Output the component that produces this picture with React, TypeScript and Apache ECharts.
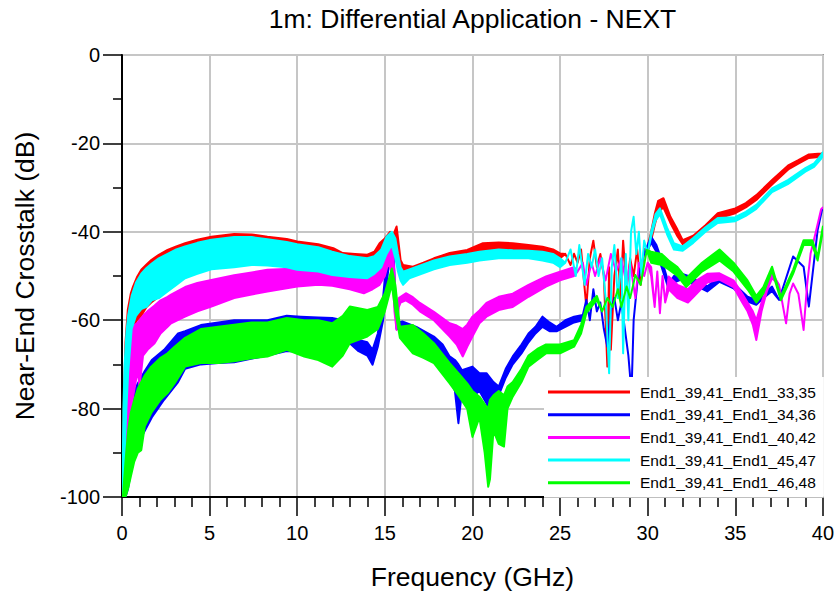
import React, { useEffect, useRef } from 'react';
import * as echarts from 'echarts';

const titleText = '1m: Differential Application - NEXT';
const xName = 'Frequency (GHz)';
const yName = 'Near-End Crosstalk (dB)';
const seriesNames = [
  'End1_39,41_End1_33,35',
  'End1_39,41_End1_34,36',
  'End1_39,41_End1_40,42',
  'End1_39,41_End1_45,47',
  'End1_39,41_End1_46,48',
];
const seriesColors = ['#ff0000', '#0000ff', '#ff00ff', '#00ffff', '#00ff00'];

// [frequency GHz, upper envelope dB, lower envelope dB]
const red: number[][] = [
  [0.03, -100, -100], [0.1, -80, -97], [0.2, -65, -88], [0.33, -57.7, -75], [0.5, -54, -66],
  [0.63, -52.4, -62], [0.85, -50.3, -60], [1.1, -48.6, -59], [1.4, -47.4, -57], [1.67, -46.4, -56],
  [2.1, -45.2, -54.7], [2.6, -44.1, -53], [3.1, -43.3, -51.5], [3.6, -42.6, -50], [4.3, -41.8, -48.8],
  [5.1, -41.1, -47.9], [6.4, -40.5, -47.1], [7.4, -40.6, -46.4], [8.3, -41.1, -46.6], [9.4, -41.6, -46.8],
  [10.0, -42.2, -47.5], [11.2, -42.8, -48], [12.06, -43.7, -48.5], [12.6, -44.8, -49], [13.3, -45, -49.5],
  [14.0, -45.2, -49.5], [14.4, -44.5, -47.5], [14.7, -42.6, -46], [15.0, -41.5, -44], [15.3, -40, -42.5],
  [15.5, -40.5, -44], [15.67, -38.8, -41], [15.8, -43, -46], [15.9, -46.4, -48], [16.04, -47.5, -49],
  [16.6, -47.9, -48.8], [17.2, -47, -48.3], [17.8, -46, -47.3], [18.7, -44.8, -46.3], [19.7, -44.1, -45.5],
  [20.6, -42.6, -44.5], [21.5, -42.4, -44], [22.3, -42.6, -44], [23.2, -43, -44.5], [24.0, -43.4, -45],
  [24.6, -44, -45.5], [25.0, -44.9, -46],
  [25.3, -45, -45], [25.6, -47.5, -47.5], [25.8, -45, -45], [26.0, -47, -47], [26.2, -44, -44],
  [26.5, -57, -57], [26.7, -46, -46], [26.9, -42, -42], [27.1, -48, -48], [27.3, -45, -45],
  [27.5, -50, -50], [27.7, -70.5, -70.5], [27.8, -48, -48], [27.9, -66.7, -66.7], [28.1, -50, -50],
  [28.3, -44, -44], [28.45, -55, -55], [28.6, -42, -42], [28.8, -53, -53], [29.0, -46, -46],
  [29.2, -50, -50], [29.4, -44, -44], [29.6, -52, -52], [29.8, -44, -44],
  [30.0, -43.4, -44.5], [30.2, -40, -42], [30.4, -36, -38.5], [30.6, -33, -35.5], [30.9, -32.4, -34.5],
  [31.3, -36.6, -38], [31.7, -39.5, -41], [32.0, -41.9, -42.8], [32.6, -40.9, -42], [33.3, -38.5, -39.5],
  [34.0, -35.8, -37], [35.0, -34.7, -35.8], [35.6, -33.5, -34.5], [36.2, -31.7, -32.8], [37.1, -28.3, -29.3],
  [38.05, -24.9, -25.8], [38.6, -23.8, -24.6], [39.2, -22.5, -23.3], [39.9, -22.3, -23], [40, -22.2, -22.8],
];

const blue: number[][] = [
  [0.05, -100, -100], [0.2, -88, -100], [0.35, -81.8, -98], [0.6, -77, -92], [0.9, -74.3, -88],
  [1.3, -71.5, -85], [1.7, -69, -82], [2.4, -66.7, -78], [3.2, -63, -74], [3.6, -62.5, -71],
  [4.5, -61.1, -70], [5.5, -60.5, -69.7], [6.4, -60, -69.5], [8.3, -60, -68], [9.4, -59, -67],
  [10.2, -59.2, -67], [11.2, -59.4, -68], [12, -59.5, -69], [12.6, -60, -66], [13, -61.5, -65.2],
  [13.5, -64.5, -67], [14.0, -65, -68], [14.3, -66.7, -70.1], [14.6, -63, -66], [14.9, -55, -60],
  [15.1, -46, -52], [15.3, -41.9, -45], [15.5, -45, -50], [15.67, -60.7, -62], [16, -60.3, -62],
  [16.8, -61.5, -63.5], [17.8, -63.7, -66], [18.3, -65.5, -69], [18.7, -68.2, -72.8], [19.0, -69, -76],
  [19.2, -70, -83.3], [19.4, -71.3, -76], [20, -70.5, -77.3], [20.4, -72, -76], [20.8, -72, -78.8],
  [21.0, -73, -81], [21.2, -74, -82.6], [21.5, -75, -77], [21.9, -71, -73], [22.3, -68.2, -70],
  [22.8, -65.5, -67.5], [23.2, -63, -65], [23.6, -61.5, -63], [24, -59.2, -61.5], [24.4, -60.5, -62.5],
  [24.8, -61.5, -62.5], [25.3, -60, -61.5], [25.8, -59.2, -60.5], [26.3, -58.8, -60],
  [26.5, -55.4, -55.4], [26.7, -60, -60], [26.9, -53, -53], [27.1, -58, -58], [27.3, -56, -56],
  [27.5, -62, -62], [27.7, -66, -66], [27.9, -58, -58], [28.1, -55, -55], [28.3, -60, -60],
  [28.5, -56, -56], [28.7, -62, -62], [28.9, -68, -68], [29.0, -72.8, -72.8], [29.1, -73.5, -73.5],
  [29.2, -60, -60], [29.4, -52, -52], [29.6, -48, -48], [29.8, -45, -45],
  [30.0, -43, -44], [30.2, -41.1, -42.5], [30.5, -43, -44.5], [30.8, -46.4, -48], [31.0, -49, -50.5],
  [31.2, -51.7, -53], [31.5, -50, -51.5], [31.9, -49.4, -50.8], [32.4, -50.1, -51.5], [33.4, -52.4, -53.5],
  [34.1, -50.1, -51.3], [34.9, -51.7, -52.8], [35.7, -54.7, -55.8], [36.2, -55.4, -56.5], [36.6, -54, -55],
  [37.1, -52.4, -53.4], [37.5, -55.4, -55.4], [38.3, -45.6, -45.6], [38.9, -47.9, -47.9], [39.2, -56.9, -56.9],
  [39.7, -39.6, -39.6], [39.95, -35.1, -35.1], [40, -35, -35],
];

const magenta: number[][] = [
  [0.03, -100, -100], [0.06, -90, -98], [0.15, -78, -95], [0.3, -67, -93], [0.45, -63.5, -85],
  [0.6, -61.5, -78], [0.9, -60.5, -71.3], [1.0, -60, -75], [1.2, -59, -68], [1.5, -57.8, -66.5],
  [1.86, -56.7, -65.2], [2.2, -55.5, -63], [2.6, -54.7, -61.5], [2.8, -54.2, -60.7], [3.6, -52.5, -59.2],
  [4.3, -51.6, -58], [5.1, -50.9, -56.9], [6.4, -49.8, -55], [7.4, -49.2, -54.2], [8.3, -48.6, -53.5],
  [10, -48.3, -52.4], [11.2, -48.6, -52], [12, -49.2, -52.2], [13, -49.6, -53], [13.8, -50, -53.9],
  [14.3, -49.5, -53], [14.7, -47.5, -52], [15.0, -45, -50], [15.2, -42.2, -47], [15.45, -42.8, -50],
  [15.55, -50, -58], [15.67, -58, -62.2], [15.8, -55, -57], [15.9, -54.7, -56], [16.2, -53.9, -55.5],
  [16.6, -54.8, -56.5], [17, -56.1, -58], [17.8, -58.1, -60], [18.7, -60.7, -63.7], [19.1, -61.2, -65.5],
  [19.45, -62, -68.2], [19.7, -61, -66], [20, -59.2, -63.7], [20.4, -57.8, -60.7], [20.8, -56.1, -59.2],
  [21.5, -54.7, -57.7], [22.3, -54, -57], [23.2, -52, -54.7], [24.2, -50.1, -52.4], [25.0, -49, -51],
  [25.8, -48, -50],
  [26.0, -49, -49], [26.3, -47, -47], [26.5, -52, -52], [26.8, -47, -47], [27.0, -50, -50],
  [27.3, -46, -46], [27.6, -51, -51], [27.9, -45, -45], [28.2, -49, -49], [28.5, -46, -46],
  [28.8, -52, -52], [29.0, -47, -47], [29.3, -55, -55], [29.5, -47, -47], [29.8, -50, -50],
  [30.0, -47, -47], [30.2, -48, -50], [30.4, -57, -57], [30.55, -49, -49], [30.7, -58.4, -58.4],
  [30.85, -50, -50], [31.0, -56, -56], [31.2, -50.1, -53], [31.7, -52, -55], [32.3, -53, -56],
  [32.8, -51, -54], [33.4, -49.5, -51.5], [34.1, -49.4, -50.8], [34.9, -51, -52.5], [35.4, -54, -56],
  [35.7, -56, -58], [36.0, -58, -61], [36.2, -60, -64.5], [36.5, -56, -58], [36.8, -52.4, -53.5],
  [37.1, -49.4, -50.5], [37.5, -52, -52], [37.9, -60.7, -60.7], [38.1, -54, -54], [38.3, -51.7, -51.7],
  [38.6, -54, -54], [38.9, -62.2, -62.2], [39.1, -52, -52], [39.3, -44.9, -44.9], [39.6, -40, -40],
  [39.9, -34.9, -34.9], [40, -34.5, -34.5],
];

const cyan: number[][] = [
  [0.03, -100, -100], [0.08, -80, -98], [0.15, -70, -90], [0.25, -63, -80], [0.35, -59, -72],
  [0.55, -54.5, -62], [0.8, -51.5, -59], [1.1, -49.5, -57.5], [1.4, -48.2, -57], [1.7, -47.2, -55.5],
  [2.1, -46, -55], [2.6, -45, -53.5], [3.1, -44, -52], [3.6, -43.3, -50.5], [4.3, -42.5, -49.5],
  [5.1, -41.8, -48.5], [6.4, -41.2, -48], [7.4, -41.2, -47.5], [8.3, -41.7, -47.6], [9.4, -42.3, -48],
  [10, -42.8, -48.6], [11.2, -43.5, -49], [12, -44.5, -49.8], [13, -45.5, -50.2], [14, -46, -50.5],
  [14.4, -45.5, -49.5], [14.8, -44, -48], [15.1, -41.1, -45], [15.4, -40, -43], [15.6, -41.5, -46],
  [15.75, -45, -49], [15.9, -48, -51], [16.04, -49, -52], [16.4, -48.5, -50.5], [17.1, -47.5, -49.5],
  [17.8, -46.5, -48.5], [18.7, -45.6, -47.5], [19.7, -45, -47], [20.4, -44.5, -46.5], [21.5, -44, -46],
  [22.3, -44.2, -46], [23.2, -44.3, -46], [24, -44.5, -46.5], [24.6, -45, -47], [25, -46, -48],
  [25.3, -47, -47], [25.6, -44, -44], [25.9, -50, -50], [26.1, -43, -43], [26.4, -52, -52],
  [26.6, -45, -45], [26.8, -48, -48], [27.0, -44, -44], [27.2, -50, -50], [27.4, -46, -46],
  [27.6, -55, -55], [27.8, -72, -72], [27.95, -48, -48], [28.1, -43, -43], [28.3, -55, -55],
  [28.5, -46, -46], [28.6, -67.5, -67.5], [28.75, -45, -45], [28.9, -60, -60], [29.05, -40, -40],
  [29.2, -36.6, -36.6], [29.35, -45, -45], [29.5, -40, -40], [29.65, -50, -50], [29.8, -42, -42],
  [30.0, -45, -45], [30.2, -40, -41], [30.45, -36, -37.5], [30.7, -34.7, -36], [31.1, -39, -40.5],
  [31.5, -42.6, -44], [32, -43.3, -44.3], [32.6, -41.4, -42.5], [33.3, -39, -40], [34, -36.9, -38],
  [35, -36.7, -37.6], [35.6, -35.5, -36.4], [36.2, -33.9, -34.8], [37.1, -30.2, -31], [38, -28.3, -29.2],
  [39, -25.6, -26.4], [39.5, -24.5, -25.3], [39.9, -22.6, -23.5], [40, -22, -22.8],
];

const green: number[][] = [
  [0.05, -100, -100], [0.2, -92, -100], [0.35, -85, -98], [0.5, -81, -95.4], [0.7, -78, -92],
  [0.9, -75.5, -90], [1.1, -74, -89.4], [1.3, -72.5, -84], [1.67, -70.5, -81], [2.2, -68.5, -78],
  [2.6, -67.5, -76.5], [3.0, -66, -74.3], [3.6, -64, -70.5], [4.5, -62, -69.7], [5.5, -61.5, -69.7],
  [6.4, -61, -69.3], [7.4, -60.5, -68.6], [8.3, -60.5, -68.2], [9.4, -59.5, -66.7], [10.4, -60, -68.2],
  [11.2, -60, -69], [12, -60.7, -70.5], [12.6, -59, -68], [13, -56.9, -65.2], [14, -57.7, -63.7],
  [14.6, -57, -62], [15, -53.9, -58], [15.4, -48.3, -52], [15.6, -52, -58], [15.86, -61.5, -64],
  [16.6, -61.1, -67.5], [17.2, -63, -68.5], [17.8, -65.2, -69.7], [18.7, -69.7, -74.3], [19.2, -72, -77],
  [19.7, -74.3, -80], [20.0, -76, -86.4], [20.4, -77.3, -82], [20.7, -79, -90], [20.9, -80, -97.7],
  [21.0, -78, -96], [21.2, -77, -85], [21.5, -76, -88], [21.8, -77, -88.6], [22.0, -75, -80],
  [22.3, -74, -77.3], [22.8, -71, -74], [23.2, -68, -70.5], [23.7, -66.5, -69], [24.2, -65.5, -67.5],
  [25, -65.5, -67.5], [25.8, -64.5, -66], [26.2, -61, -63], [26.5, -57, -58.4], [27.1, -54.5, -55.4],
  [27.4, -58, -58], [27.7, -55, -55], [28.0, -57, -57], [28.3, -53, -53], [28.5, -57, -57],
  [28.8, -52.4, -52.4], [29.0, -55, -55], [29.3, -49.8, -49.8], [29.6, -52, -52], [29.95, -44.1, -44.1],
  [30.2, -44.5, -47], [30.8, -45, -47.5], [31.2, -46.5, -48.5], [31.7, -48, -50], [32.2, -50.5, -52.5],
  [33.1, -47, -49], [34.1, -44, -46.5], [34.9, -47, -49], [35.7, -51, -53], [36.2, -54.5, -56],
  [36.6, -52.5, -54], [37.1, -47.9, -48.8], [37.6, -54.7, -55.5], [38.3, -48.6, -49.5], [38.9, -41.9, -43],
  [39.4, -41.9, -43], [39.7, -45.6, -46.5], [40, -38.8, -39.8],
];

const seriesData = [red, blue, magenta, cyan, green];

const FONT = "'Liberation Sans', Arial, Helvetica, sans-serif";

function bandSeries(name: string, color: string, pts: number[][]) {
  return {
    type: 'custom',
    name,
    coordinateSystem: 'cartesian2d',
    clip: true,
    silent: true,
    itemStyle: { color },
    data: [[pts[0][0], pts[0][1]]],
    encode: { x: 0, y: 1 },
    renderItem: (_params: any, api: any) => {
      const upper = pts.map((p) => api.coord([p[0], p[1]]));
      const lower = pts.slice().reverse().map((p) => api.coord([p[0], p[2]]));
      return {
        type: 'polygon',
        shape: { points: upper.concat(lower) },
        style: { fill: color, stroke: color, lineWidth: 2, lineJoin: 'round' },
      };
    },
  };
}

export default function App() {
  const ref = useRef<HTMLDivElement>(null);
  useEffect(() => {
    if (!ref.current) return;
    const chart = echarts.init(ref.current, null, { renderer: 'svg' });
    const option: any = {
      animation: false,
      backgroundColor: '#ffffff',
      textStyle: { fontFamily: FONT },
      graphic: [
        {
          type: 'text',
          x: 472.5,
          y: 5,
          style: {
            text: titleText,
            fontSize: 26.5,
            fontFamily: FONT,
            fill: '#000',
            textAlign: 'center',
            textVerticalAlign: 'top',
          },
        },
      ],
      grid: {
        left: 122,
        right: 14,
        top: 55,
        bottom: 100,
        show: true,
        borderColor: '#222',
        borderWidth: 1.5,
        backgroundColor: 'transparent',
      },
      legend: {
        orient: 'vertical',
        left: 544,
        top: 377,
        icon: 'rect',
        itemWidth: 82,
        itemHeight: 3,
        itemGap: 4.7,
        backgroundColor: '#ffffff',
        padding: [6, 8, 6, 4],
        selectedMode: false,
        textStyle: { fontSize: 15.5, color: '#000', fontFamily: FONT, lineHeight: 18, padding: [0, 0, 0, 5] },
        data: seriesNames,
      },
      xAxis: {
        type: 'value',
        min: 0,
        max: 40,
        interval: 5,
        name: xName,
        nameLocation: 'middle',
        nameGap: 66,
        nameTextStyle: { fontSize: 26.5, color: '#000', fontFamily: FONT },
        axisLine: { show: true, onZero: false, lineStyle: { color: '#000', width: 2 } },
        axisTick: { show: true, inside: false, length: 19, lineStyle: { color: '#000', width: 1.5 } },
        minorTick: { show: true, splitNumber: 5, length: 10, lineStyle: { color: '#000', width: 1.5 } },
        axisLabel: { fontSize: 20, color: '#000', margin: 26, fontFamily: FONT },
        splitLine: { show: true, lineStyle: { color: '#c6c6c6', width: 2 } },
      },
      yAxis: {
        type: 'value',
        min: -100,
        max: 0,
        interval: 20,
        name: yName,
        nameLocation: 'middle',
        nameGap: 84,
        nameTextStyle: { fontSize: 26.5, color: '#000', fontFamily: FONT },
        axisLine: { show: true, onZero: false, lineStyle: { color: '#000', width: 2 } },
        axisTick: { show: true, inside: false, length: 19, lineStyle: { color: '#000', width: 1.5 } },
        minorTick: { show: true, splitNumber: 2, length: 9, lineStyle: { color: '#000', width: 1.5 } },
        axisLabel: { fontSize: 20, color: '#000', margin: 22, fontFamily: FONT },
        splitLine: { show: true, lineStyle: { color: '#c6c6c6', width: 2 } },
      },
      series: seriesNames.map((n, i) => bandSeries(n, seriesColors[i], seriesData[i])),
    };
    chart.setOption(option);
    return () => chart.dispose();
  }, []);
  return (
    <div
      ref={ref}
      style={{ position: 'fixed', left: 0, top: 0, width: 837, height: 597 }}
    />
  );
}
